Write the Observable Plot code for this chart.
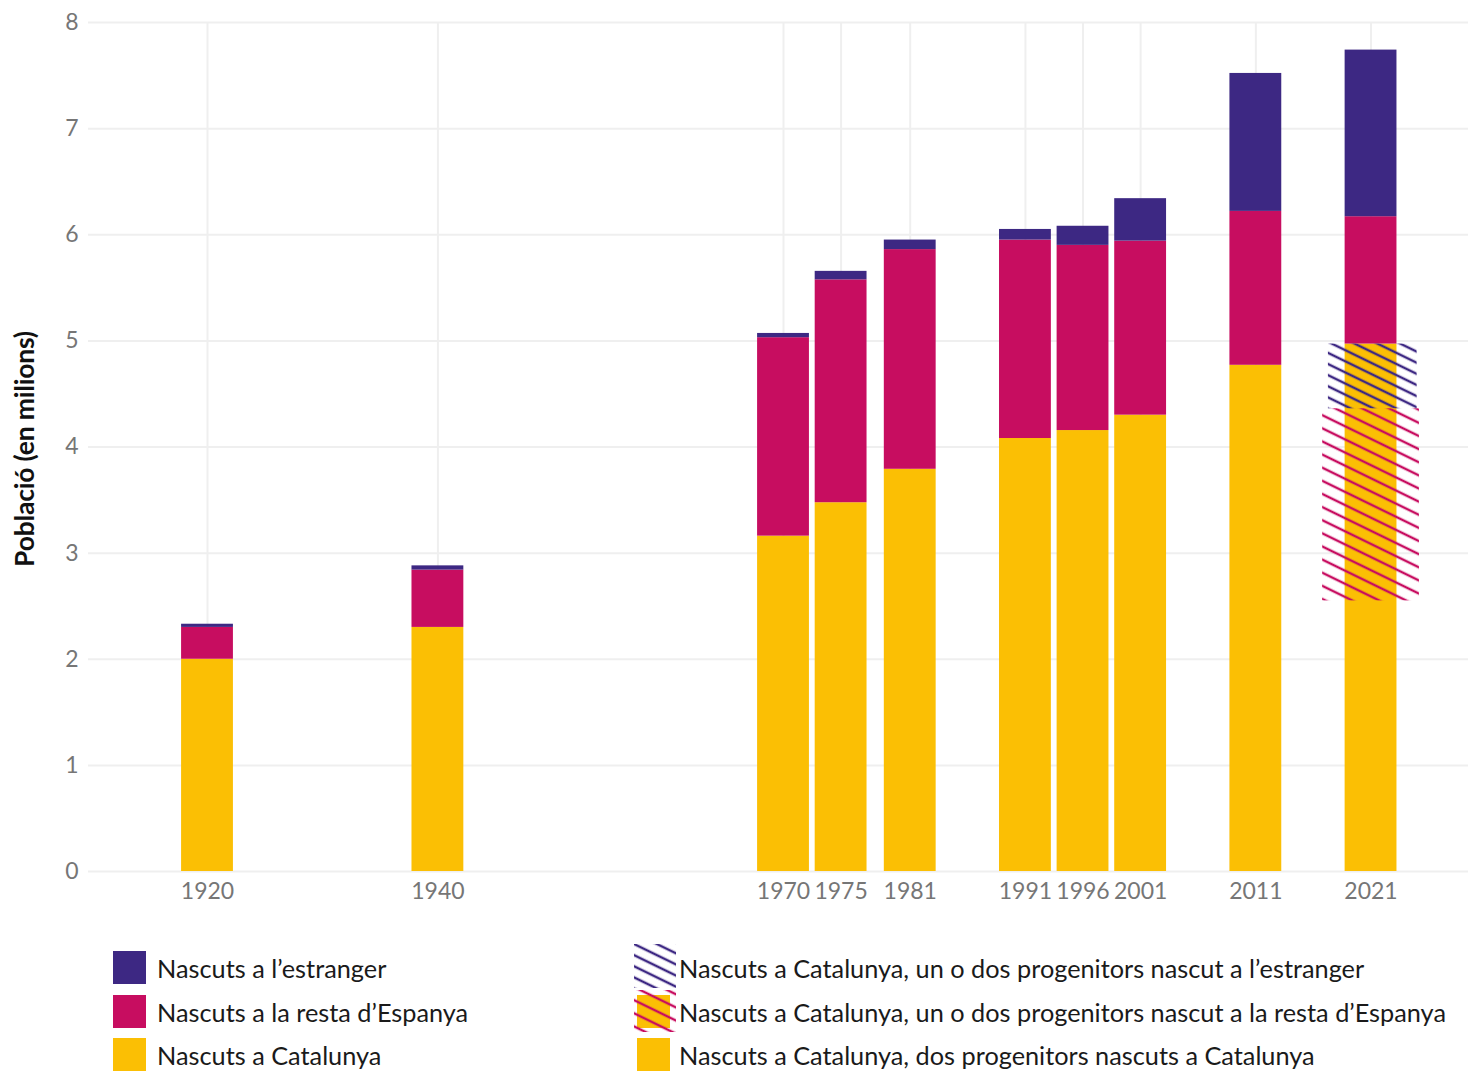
<!DOCTYPE html>
<html>
<head>
<meta charset="utf-8">
<script src="https://cdn.jsdelivr.net/npm/d3@7"></script>
<script src="https://cdn.jsdelivr.net/npm/@observablehq/plot@0.6"></script>
<style>
  html, body { margin: 0; padding: 0; background: #fff; }
  body { width: 1468px; height: 1073px; position: relative; overflow: hidden; font-family: "Source Sans Pro", Lato, "Noto Sans", sans-serif; }
  #chart { position: absolute; left: 0; top: 0; }
  .legend-item { position: absolute; display: flex; align-items: center; font-size: 25.3px; color: #1a1a1a; white-space: nowrap; }
  .legend-item svg { overflow: visible; flex: none; }
  #ylabel { position: absolute; left: 24px; top: 449px; transform: translate(-50%, -50%) rotate(-90deg); font-size: 26.5px; font-weight: 700; color: #111; white-space: nowrap; letter-spacing: -0.2px; }
</style>
</head>
<body>
<div id="chart"></div>
<div id="ylabel">Població (en milions)</div>
<div id="legend"></div>
<script>
// ---- data (millions of inhabitants) ----
const years = [1920, 1940, 1970, 1975, 1981, 1991, 1996, 2001, 2011, 2021];
const nascutsCatalunya = [2.00, 2.30, 3.16, 3.475, 3.79, 4.08, 4.155, 4.30, 4.77, 4.97];
const nascutsRestaEspanya = [0.30, 0.54, 1.87, 2.10, 2.07, 1.87, 1.745, 1.64, 1.45, 1.20];
const nascutsEstranger = [0.03, 0.04, 0.04, 0.08, 0.09, 0.10, 0.18, 0.40, 1.30, 1.57];

// 2021 breakdown of those born in Catalonia (bottom to top)
const desglos2021Year = 2021;
const desglos2021Groups = ["dosCatalunya", "restaEspanya", "estranger"];
const desglos2021Values = [2.55, 1.81, 0.61];

const yTicks = [0, 1, 2, 3, 4, 5, 6, 7, 8];

const groups = ["Nascuts a Catalunya", "Nascuts a la resta d’Espanya", "Nascuts a l’estranger"];
const colors = ["#fbbf04", "#c70d60", "#3d2883"];

// ---- build tables ----
const rows = [];
years.forEach((year, i) => {
  rows.push({year, group: groups[0], value: nascutsCatalunya[i]});
  rows.push({year, group: groups[1], value: nascutsRestaEspanya[i]});
  rows.push({year, group: groups[2], value: nascutsEstranger[i]});
});
const cum = d3.cumsum(desglos2021Values);
const desglos = desglos2021Groups.map((g, i) => ({
  year: desglos2021Year, group: g, y1: i === 0 ? 0 : cum[i - 1], y2: cum[i]
}));

const halfBar = 2.25; // years
const chart = Plot.plot({
  width: 1468,
  height: 925,
  marginLeft: 88,
  marginRight: 0,
  marginTop: 22,
  marginBottom: 54,
  style: { fontFamily: '"Source Sans Pro", Lato, "Noto Sans", sans-serif', fontSize: "23px", color: "#767676", background: "#fff" },
  x: { domain: [1909.67, 2029.46], ticks: years, tickFormat: d => String(d), tickSize: 0, tickPadding: 11, label: null },
  y: { domain: [0, 8], ticks: yTicks, tickSize: 0, tickPadding: 10, label: null },
  color: { domain: groups, range: colors },
  marks: [
    Plot.ruleY(yTicks, { stroke: "#efefef", strokeWidth: 2 }),
    Plot.ruleX(years, { stroke: "#efefef", strokeWidth: 2 }),
    Plot.rectY(rows, {
      x1: d => d.year - halfBar, x2: d => d.year + halfBar,
      y: "value", fill: "group"
    }),
    Plot.rectY(desglos.filter(d => d.group === "restaEspanya"), {
      x1: d => d.year - 4.2, x2: d => d.year + 4.2, y1: "y1", y2: "y2", fill: "url(#hatchRed)"
    }),
    Plot.rectY(desglos.filter(d => d.group === "estranger"), {
      x1: d => d.year - 3.7, x2: d => d.year + 4.0, y1: "y1", y2: "y2", fill: "url(#hatchPurple)"
    })
  ]
});

// hatch patterns
const defs = d3.select(chart).insert("defs", ":first-child");
function addPattern(id, color, spacing, sw) {
  const p = defs.append("pattern").attr("id", id).attr("patternUnits", "userSpaceOnUse")
    .attr("width", 300).attr("height", spacing).attr("patternTransform", "rotate(26)");
  p.append("line").attr("x1", 0).attr("x2", 300).attr("y1", spacing / 2).attr("y2", spacing / 2)
    .attr("stroke", color).attr("stroke-width", sw).attr("stroke-linecap", "round");
}
addPattern("hatchRed", "#c70d60", 11.8, 2.7);
addPattern("hatchPurple", "#3d2883", 10, 2.7);

document.getElementById("chart").appendChild(chart);

// ---- legend ----
const legendItems = [
  { label: "Nascuts a l’estranger", x: 113, y: 951, type: "solid", color: colors[2] },
  { label: "Nascuts a la resta d’Espanya", x: 113, y: 995, type: "solid", color: colors[1] },
  { label: "Nascuts a Catalunya", x: 113, y: 1038, type: "solid", color: colors[0] },
  { label: "Nascuts a Catalunya, un o dos progenitors nascut a l’estranger", x: 637, y: 951, type: "hatchPurple" },
  { label: "Nascuts a Catalunya, un o dos progenitors nascut a la resta d’Espanya", x: 637, y: 995, type: "hatchRed" },
  { label: "Nascuts a Catalunya, dos progenitors nascuts a Catalunya", x: 637, y: 1038, type: "solid", color: colors[0] }
];
const legend = d3.select("#legend");
legendItems.forEach(it => {
  const div = legend.append("div").attr("class", "legend-item")
    .style("left", it.x + "px").style("top", it.y + "px").style("height", "33px");
  const s = div.append("svg").attr("width", 33).attr("height", 33);
  if (it.type === "solid") {
    s.append("rect").attr("width", 33).attr("height", 33).attr("fill", it.color);
  } else if (it.type === "hatchRed") {
    s.append("rect").attr("width", 33).attr("height", 33).attr("fill", colors[0]);
    s.append("rect").attr("x", -3).attr("y", -5).attr("width", 42).attr("height", 42).attr("fill", "url(#hatchRed)");
  } else {
    s.append("rect").attr("x", -3).attr("y", -7).attr("width", 42).attr("height", 44).attr("fill", "url(#hatchPurple)");
  }
  div.append("span").style("margin-left", it.x === 113 ? "11px" : "9px").text(it.label);
});
</script>
</body>
</html>
